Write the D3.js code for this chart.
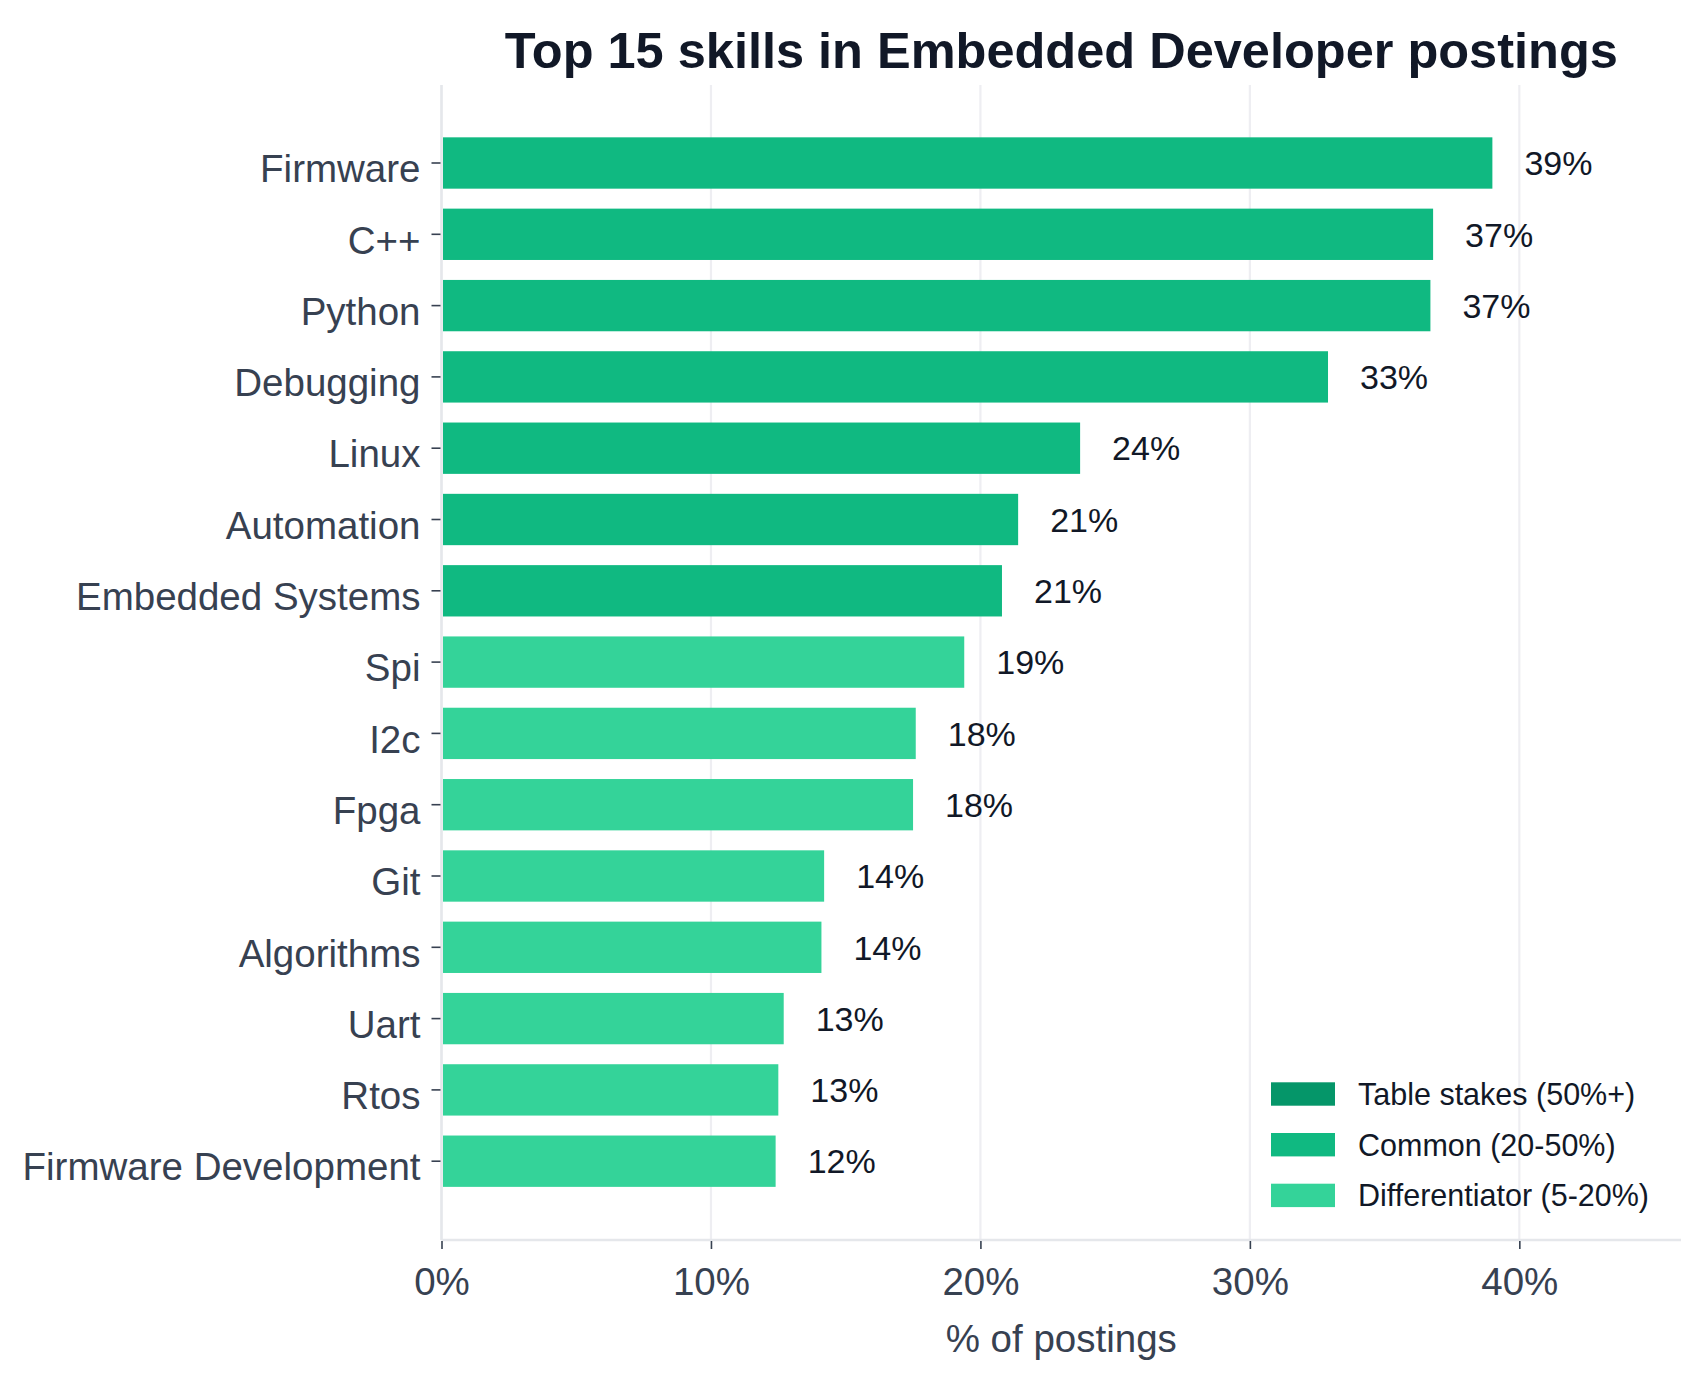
<!DOCTYPE html>
<html>
<head>
<meta charset="utf-8">
<script src="https://cdn.jsdelivr.net/npm/d3@7"></script>
<style>
  body { margin: 0; background: #fff; }
  svg text { font-family: "Liberation Sans", Arial, Helvetica, sans-serif; }
</style>
</head>
<body>
<div id="chart"></div>
<script>
// skills, top to bottom
var skills = ["Firmware", "C++", "Python", "Debugging", "Linux", "Automation",
    "Embedded Systems", "Spi", "I2c", "Fpga", "Git", "Algorithms", "Uart",
    "Rtos", "Firmware Development"];
var shares = [39.0, 36.8, 36.7, 32.9, 23.7, 21.4, 20.8, 19.4, 17.6, 17.5,
    14.2, 14.1, 12.7, 12.5, 12.4];
var xTicks = [0, 10, 20, 30, 40];
var tierNames = ["Table stakes (50%+)", "Common (20-50%)", "Differentiator (5-20%)"];
var tierColors = ["#059669", "#10b981", "#34d399"];

var W = 1700, H = 1381,
    mLeft = 441.5, mRight = 1681, mTop = 85, mBottom = 1240;

var data = skills.map(function(s, i) { return { skill: s, value: shares[i] }; });

function tier(v) {
    if (v >= 50) return 0;
    if (v >= 20) return 1;
    return 2;
}

var x = d3.scaleLinear().domain([0, 46]).range([mLeft, mRight]);

var step = 71.3;
var y = d3.scaleBand()
    .domain(skills)
    .range([163 - step / 2, 163 + step * 14 + step / 2])
    .paddingInner(0.28)
    .paddingOuter(0.14);

var svg = d3.select("#chart").append("svg")
    .attr("width", W)
    .attr("height", H);

// grid
svg.append("g").selectAll("line")
    .data(xTicks)
    .enter().append("line")
    .attr("x1", function(d) { return x(d); })
    .attr("x2", function(d) { return x(d); })
    .attr("y1", mTop)
    .attr("y2", mBottom)
    .attr("stroke", "#eeeef2")
    .attr("stroke-width", 2.2);

// spines
svg.append("line")
    .attr("x1", mLeft).attr("x2", mLeft)
    .attr("y1", mTop).attr("y2", mBottom)
    .attr("stroke", "#e5e7eb").attr("stroke-width", 2.5);
svg.append("line")
    .attr("x1", mLeft).attr("x2", mRight)
    .attr("y1", mBottom).attr("y2", mBottom)
    .attr("stroke", "#e5e7eb").attr("stroke-width", 2.5);

// bars
svg.append("g").selectAll("rect")
    .data(data)
    .enter().append("rect")
    .attr("x", x(0) + 1.5)
    .attr("y", function(d) { return y(d.skill); })
    .attr("width", function(d) { return x(d.value) - x(0) - 1.5; })
    .attr("height", y.bandwidth())
    .attr("fill", function(d) { return tierColors[tier(d.value)]; });

// value labels
svg.append("g").selectAll("text")
    .data(data)
    .enter().append("text")
    .attr("x", function(d) { return x(d.value) + 32; })
    .attr("y", function(d) { return y(d.skill) + y.bandwidth() / 2; })
    .attr("dy", "0.36em")
    .attr("font-size", 34)
    .attr("fill", "#111827")
    .text(function(d) { return Math.round(d.value) + "%"; });

// y axis
var yAxis = svg.append("g")
    .attr("transform", "translate(" + (mLeft - 1) + ",0)")
    .call(d3.axisLeft(y).tickSize(9).tickPadding(11));
yAxis.select(".domain").remove();
yAxis.selectAll(".tick line").attr("stroke", "#374151").attr("stroke-width", 1.6);
yAxis.selectAll(".tick text")
    .attr("font-size", 38.5)
    .attr("fill", "#374151")
    .attr("dy", "0.5em");

// x axis
var xAxis = svg.append("g")
    .attr("transform", "translate(0," + (mBottom + 1) + ")")
    .call(d3.axisBottom(x).tickValues(xTicks).tickSize(8).tickPadding(19)
        .tickFormat(function(d) { return d + "%"; }));
xAxis.select(".domain").remove();
xAxis.selectAll(".tick line").attr("stroke", "#374151").attr("stroke-width", 1.6);
xAxis.selectAll(".tick text")
    .attr("font-size", 38.5)
    .attr("fill", "#374151");

svg.append("text")
    .attr("x", (mLeft + mRight) / 2)
    .attr("y", 1352)
    .attr("text-anchor", "middle")
    .attr("font-size", 38.5)
    .attr("fill", "#374151")
    .text("% of postings");

// title
svg.append("text")
    .attr("x", (mLeft + mRight) / 2)
    .attr("y", 68)
    .attr("text-anchor", "middle")
    .attr("font-size", 50.5)
    .attr("font-weight", "bold")
    .attr("fill", "#111827")
    .text("Top 15 skills in Embedded Developer postings");

// legend
var legend = svg.append("g").selectAll("g")
    .data(tierNames)
    .enter().append("g")
    .attr("transform", function(d, i) { return "translate(1271," + (1094 + i * 50.7) + ")"; });
legend.append("rect")
    .attr("x", 0).attr("y", -11.7)
    .attr("width", 64).attr("height", 23.4)
    .attr("fill", function(d, i) { return tierColors[i]; });
legend.append("text")
    .attr("x", 87)
    .attr("dy", "0.36em")
    .attr("font-size", 30.5)
    .attr("fill", "#111827")
    .text(function(d) { return d; });
</script>
</body>
</html>
